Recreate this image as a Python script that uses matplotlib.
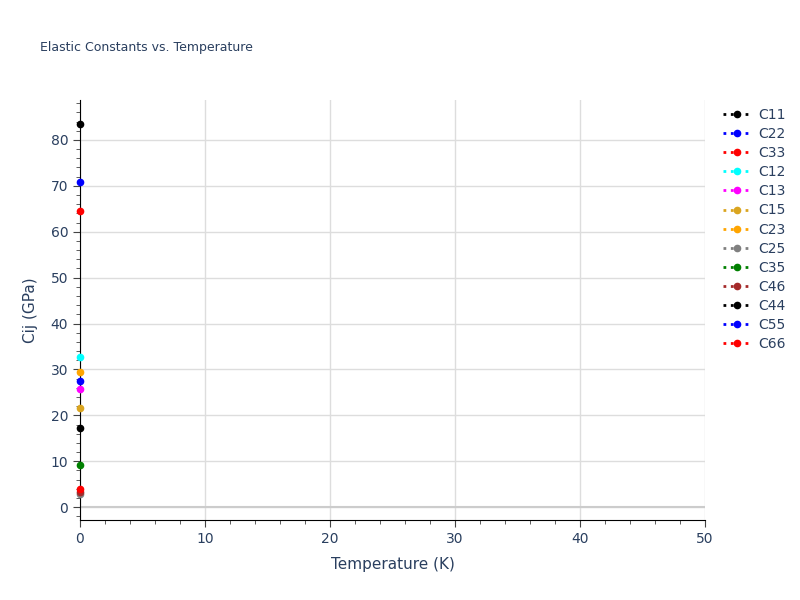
import numpy as np
import matplotlib.pyplot as plt
from matplotlib.ticker import MultipleLocator

temperature = [0]
names = ['C11', 'C22', 'C33', 'C12', 'C13', 'C15', 'C23', 'C25', 'C35', 'C46', 'C44', 'C55', 'C66']
values = [83.4, 70.8, 64.6, 32.8, 25.7, 21.6, 29.4, 2.8, 9.2, 3.3, 17.3, 27.5, 3.9]
colors = ['black', 'blue', 'red', 'cyan', 'magenta', 'goldenrod', 'orange', 'gray',
          'green', 'brown', 'black', 'blue', 'red']

text_col = '#2a3f5f'
fig = plt.figure(figsize=(8, 6), dpi=100)
ax = fig.add_axes([0.1, 0.1333, 0.78125, 0.7])

for name, v, c in zip(names, values, colors):
    ax.plot(temperature, [v], linestyle=':', marker='o', color=c, markersize=4.5,
            linewidth=2, label=name, clip_on=False, zorder=3)

ax.set_xlim(0, 50)
ax.set_ylim(-2.8, 88.7)
ax.xaxis.set_major_locator(MultipleLocator(10))
ax.xaxis.set_minor_locator(MultipleLocator(2))
ax.yaxis.set_major_locator(MultipleLocator(10))
ax.yaxis.set_minor_locator(MultipleLocator(2))
ax.tick_params(which='major', direction='out', length=5, colors='#444', labelcolor=text_col, labelsize=10)
ax.tick_params(which='minor', direction='out', length=3, colors='#444')
ax.grid(True, which='major', color='#dddddd', linewidth=1)
ax.axhline(0, color='#cccccc', linewidth=1.5, zorder=1)
ax.set_axisbelow(True)
for s in ['top', 'right']:
    ax.spines[s].set_visible(False)
ax.spines['left'].set_color('black')
ax.spines['bottom'].set_color('black')

ax.set_xlabel('Temperature (K)', color=text_col, fontsize=11, labelpad=8)
ax.set_ylabel('Cij (GPa)', color=text_col, fontsize=11, labelpad=9)
fig.text(0.05, 0.915, 'Elastic Constants vs. Temperature', color=text_col, fontsize=9)

ax.legend(loc='upper left', bbox_to_anchor=(1.02, 0.995), frameon=False, fontsize=10,
          labelcolor=text_col, handlelength=2.0, handletextpad=0.5, labelspacing=0.37,
          borderaxespad=0)

fig.savefig('out.png', dpi=100)
